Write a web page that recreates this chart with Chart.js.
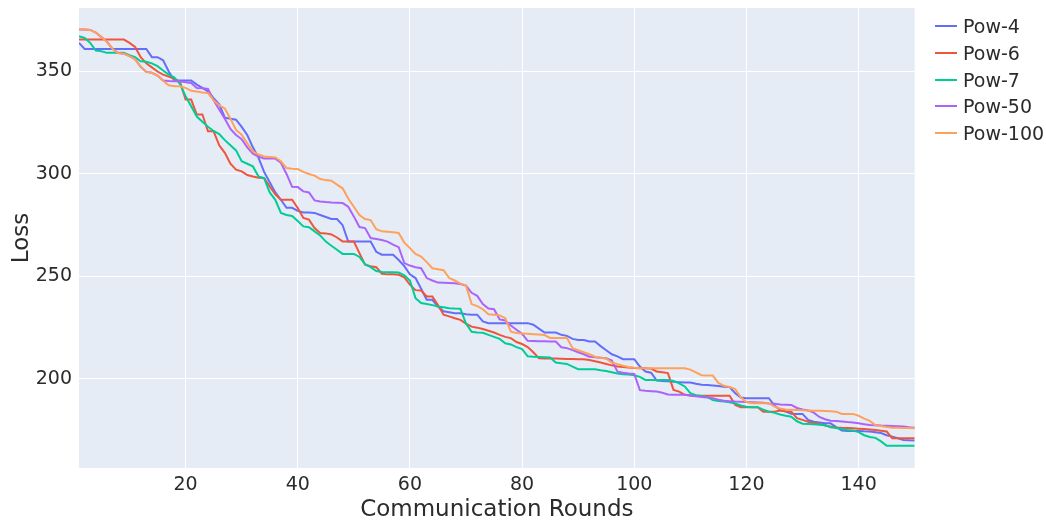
<!DOCTYPE html>
<html>
<head>
<meta charset="utf-8">
<script src="https://cdn.jsdelivr.net/npm/chart.js@4.4.0/dist/chart.umd.min.js"></script>
<style>
    body { margin: 0; background: #fff; }
    #wrap { position: relative; width: 1046px; height: 524px; }
    #legend { position: absolute; left: 935px; top: 13px; font-family: "DejaVu Sans", Verdana, sans-serif; font-size: 19px; color: #2b2b2b; }
    #legend .item { height: 26.7px; display: flex; align-items: center; }
    #legend .swatch { width: 22px; height: 2px; margin-right: 6px; }
</style>
</head>
<body>
<div id="wrap">
    <canvas id="lossChart" width="1046" height="524"></canvas>
    <div id="legend"></div>
</div>
<script>
// communication rounds 1..150
const rounds = [];
for (let r = 1; r <= 150; r++) rounds.push(r);

const seriesNames = ["Pow-4", "Pow-6", "Pow-7", "Pow-50", "Pow-100"];
const seriesColors = ["#636efa", "#EF553B", "#00cc96", "#ab63fa", "#FFA15A"];

const pow4 = [
    364, 361, 361, 361, 361, 361, 361, 361, 361, 361,
    361, 361, 361, 357, 357, 355.5, 350, 345.6, 345.6, 345.6,
    345.6, 343.6, 342, 340.3, 337, 334, 327.5, 327, 326.5, 323,
    319, 313, 308, 301, 296, 291, 287.4, 283.5, 283.5, 282,
    281.2, 281.2, 281, 280, 279, 278, 278, 275, 267, 267,
    267, 267, 267, 262, 260.6, 260.6, 260.6, 258, 255, 251,
    249.2, 244, 238.6, 238.6, 235.3, 233, 232.5, 232, 232, 231.5,
    231.3, 231.3, 228, 227.2, 227.2, 227.2, 227.2, 227.2, 227.2, 227.2,
    227.2, 226.4, 224.5, 222.6, 222.6, 222.6, 221.5, 221, 219.5, 219,
    219, 218.2, 218.2, 216, 214, 212, 211, 209.6, 209.6, 209.6,
    206, 203.6, 203, 199.2, 199, 198.8, 198.6, 198.4, 198.2, 198.2,
    197.6, 197.1, 197, 196.8, 196.5, 196.2, 196, 193, 190.9, 190.6,
    190.6, 190.6, 190.6, 190.6, 187, 184.9, 184, 183, 182.9, 182.9,
    180, 179.1, 178.7, 178.3, 178.3, 176.5, 174.8, 174.6, 174.6, 174.6,
    174.4, 174.3, 174, 173.6, 172.5, 171.8, 171, 170.2, 170, 169.9
];

const pow6 = [
    365.6, 365.6, 365.6, 365.6, 365.6, 365.6, 365.6, 365.6, 365.6, 364,
    362, 357, 354, 352, 350, 348.5, 347.5, 346.4, 345, 336.3,
    336.3, 329, 329, 320.8, 320.8, 314, 310.3, 305, 302.1, 301.3,
    299.5, 298.8, 298.2, 298, 293.9, 290, 287.4, 287.4, 287.4, 283.4,
    278.5, 277.7, 273.6, 271.2, 271, 270.5, 269, 267.1, 267.1, 267.1,
    261.4, 255.7, 255, 254.5, 251.3, 251, 251, 250.8, 249.5, 246,
    243.3, 243.1, 240.2, 240.2, 236, 231.3, 230.5, 229.6, 228.8, 227,
    225.5, 225, 224.3, 223.5, 222.6, 221.5, 220.5, 219.9, 218, 217,
    215.5, 213, 210.1, 210, 210, 209.9, 209.8, 209.7, 209.7, 209.6,
    209.6, 209.2, 208.6, 208, 207.3, 206.6, 206, 205.8, 205.5, 205.3,
    205.2, 205.2, 205, 203.6, 203.2, 202.8, 194.6, 193.8, 192.2, 192,
    191.8, 191.8, 191.8, 191.8, 191.8, 191.8, 191.8, 187.3, 186.2, 186.2,
    186.2, 186.2, 184, 184, 184, 184.5, 184.2, 184, 180.8, 180,
    179.1, 178.5, 178, 177.2, 176.7, 176.3, 176.1, 176, 175.9, 175.7,
    175.5, 175.3, 175.1, 174.7, 174.3, 171, 171, 171, 171, 171
];

const pow7 = [
    367.2, 366.4, 364, 360.2, 359.9, 359.1, 359.1, 359.1, 359.1, 358,
    357, 355, 354.8, 354, 352.6, 350.5, 348.5, 347, 344, 338,
    333, 328, 325.5, 323, 321, 319.5, 316.5, 314, 311.5, 306.2,
    305, 303.7, 298.8, 298, 291, 287.4, 281, 280, 279.5, 277,
    274.4, 274, 272, 270, 267, 265, 263, 261, 261, 261,
    259.5, 256, 254.5, 252.6, 252.2, 252, 252, 251.9, 250.5, 248,
    239.4, 237, 236.5, 236, 235.3, 235, 234.5, 234.3, 234.2, 227,
    223, 222.6, 222.5, 221.5, 220.5, 219.5, 217.4, 216.8, 215.5, 214.5,
    211, 210.8, 210.7, 210.6, 210.4, 208, 207.6, 207.3, 206, 204.7,
    204.7, 204.7, 204.7, 204.2, 203.8, 203.2, 202.6, 202.3, 202.1, 201.8,
    201, 199.5, 199.5, 199.5, 199.5, 199.5, 199, 197.8, 196.3, 193,
    192, 191.6, 191.2, 189.7, 189.2, 188.9, 188.6, 188, 187, 186.4,
    186.2, 186.2, 185, 184, 183.4, 182.6, 182, 181.5, 179.3, 178.1,
    178, 177.8, 177.6, 177.5, 176.4, 176, 175.5, 175, 174.8, 174,
    172.5, 171.6, 171.2, 169.5, 167.3, 167.3, 167.3, 167.3, 167.3, 167.3
];

const pow50 = [
    370.5, 370.5, 370.3, 369, 366.8, 364.5, 361, 359, 358.7, 357.5,
    356, 352.3, 349.8, 349.4, 348, 345.6, 345.4, 345.3, 345.2, 344.8,
    344.4, 342, 341.8, 341.5, 336, 331.5, 327, 322, 319, 317,
    313, 309.9, 308.5, 307.5, 307.5, 307.5, 305.5, 300, 293.7, 293.6,
    291.5, 291, 287.1, 286.6, 286.3, 286.1, 286, 285.8, 284, 279.3,
    274.1, 273.6, 268.7, 268.3, 267.8, 267, 265.5, 264.3, 256.5, 255.3,
    254.5, 254, 249.2, 248, 247, 246.9, 246.8, 246.7, 246.3, 245.5,
    242, 240.5, 236.5, 234.3, 234, 229, 228.5, 226, 224, 222,
    218.6, 218.5, 218.4, 218.3, 218.2, 218.2, 215.4, 215, 214, 213,
    212, 210.8, 210.5, 210.3, 210.1, 209, 203.5, 203, 202.6, 202.4,
    194.5, 194.2, 194, 193.8, 193.2, 192.4, 192.2, 192.2, 192.2, 191.8,
    191.5, 191.2, 190.9, 190.6, 189.8, 189.3, 189.1, 188.9, 188.8, 188.7,
    188.6, 188.5, 188.4, 188, 187.8, 187.5, 187.4, 187.3, 185.8, 185.1,
    184.6, 183.5, 181.4, 180.3, 179.6, 179.4, 179.2, 178.9, 178.7, 178.3,
    177.9, 177.5, 177.4, 177.2, 177.1, 177, 176.9, 176.7, 176.4, 176.2
];

const pow100 = [
    370.5, 370.5, 370.3, 369, 366.8, 364.5, 361, 359, 358.7, 357.5,
    356, 352.3, 349.8, 349.4, 348, 345.5, 343.3, 342.8, 342.8, 342,
    340.6, 340.2, 339.8, 339.5, 336, 333.5, 332, 327, 321.5, 319.2,
    315, 311, 309.5, 308.5, 308.3, 308.1, 306.2, 302.9, 302.6, 302.4,
    301, 300, 299.2, 297.5, 297, 296.7, 294.8, 293, 288, 284,
    280, 278, 277.5, 273, 272, 271.8, 271.5, 271.2, 266.5, 263.8,
    261, 259.7, 257, 254, 253.5, 253, 249.2, 248, 246.5, 245.5,
    236.5, 235.5, 234, 231.5, 231.3, 231, 229.6, 223, 222.4, 222.2,
    222, 221.8, 221.6, 221.4, 220, 219.9, 219.9, 219.9, 215, 214,
    213, 212, 210.8, 210.3, 209.8, 208, 207.2, 206.4, 205.8, 205.4,
    205.2, 205.2, 205.2, 205.2, 205.2, 205.2, 205.2, 205.2, 205.2, 204.5,
    203.2, 201.8, 201.6, 201.6, 198, 196.6, 196, 195, 191, 188.7,
    188.1, 188.1, 188.1, 188.1, 186.5, 185.5, 185, 184.9, 184.8, 184.7,
    184.6, 184.5, 184.4, 184.3, 184.2, 184, 182.9, 182.9, 182.9, 182,
    180.6, 179.5, 177.3, 177, 176.5, 176.2, 176.1, 176, 176, 175.9
];

const xTicks = [20, 40, 60, 80, 100, 120, 140];
const yTicks = [200, 250, 300, 350];

const allSeries = [pow4, pow6, pow7, pow50, pow100];
const fontFamily = '"DejaVu Sans", Verdana, sans-serif';
const textColor = '#2b2b2b';

// plot background like plotly
const plotBg = {
    id: 'plotBg',
    beforeDraw(chart) {
        const { ctx, chartArea: a } = chart;
        ctx.save();
        ctx.fillStyle = '#E5ECF6';
        ctx.fillRect(a.left, a.top, a.right - a.left, a.bottom - a.top);
        ctx.restore();
    }
};

const datasets = allSeries.map((values, i) => ({
    label: seriesNames[i],
    data: values,
    borderColor: seriesColors[i],
    backgroundColor: seriesColors[i],
    borderWidth: 2,
    pointRadius: 0,
    tension: 0,
    fill: false,
    order: allSeries.length - i
}));

const ctx = document.getElementById('lossChart').getContext('2d');
new Chart(ctx, {
    type: 'line',
    data: { labels: rounds, datasets: datasets },
    options: {
        responsive: false,
        animation: false,
        devicePixelRatio: 1,
        layout: { padding: { top: 8, right: 131.3, bottom: 0, left: 0 } },
        plugins: {
            legend: { display: false },
            tooltip: { enabled: false }
        },
        scales: {
            x: {
                type: 'linear',
                min: 1,
                max: 150,
                afterBuildTicks: scale => { scale.ticks = xTicks.map(v => ({ value: v })); },
                afterFit: scale => {
                    scale.height = 56;
                    scale.paddingLeft = 0;
                    scale.paddingRight = 0;
                },
                grid: { color: '#ffffff', lineWidth: 1, drawTicks: false },
                border: { display: false },
                ticks: { padding: 6, color: textColor, font: { family: fontFamily, size: 19 } },
                title: {
                    display: true,
                    text: 'Communication Rounds',
                    color: textColor,
                    padding: { top: 0, bottom: 0 },
                    font: { family: fontFamily, size: 23 }
                }
            },
            y: {
                min: 156.5,
                max: 381,
                afterBuildTicks: scale => { scale.ticks = yTicks.map(v => ({ value: v })); },
                afterFit: scale => {
                    scale.width = 79;
                    // ticks sit inside the plot, no extra room needed at the ends
                    scale.paddingTop = 0;
                    scale.paddingBottom = 0;
                },
                grid: { color: '#ffffff', lineWidth: 1, drawTicks: false },
                border: { display: false },
                ticks: { padding: 7, color: textColor, font: { family: fontFamily, size: 19 } },
                title: {
                    display: true,
                    text: 'Loss',
                    color: textColor,
                    padding: { top: 8, bottom: 0 },
                    font: { family: fontFamily, size: 23 }
                }
            }
        }
    },
    plugins: [plotBg]
});

// legend on the right, plotly style
const legendEl = document.getElementById('legend');
seriesNames.forEach((name, i) => {
    const item = document.createElement('div');
    item.className = 'item';
    item.innerHTML = '<span class="swatch" style="background:' + seriesColors[i] + '"></span>' + name;
    legendEl.appendChild(item);
});
</script>
</body>
</html>
